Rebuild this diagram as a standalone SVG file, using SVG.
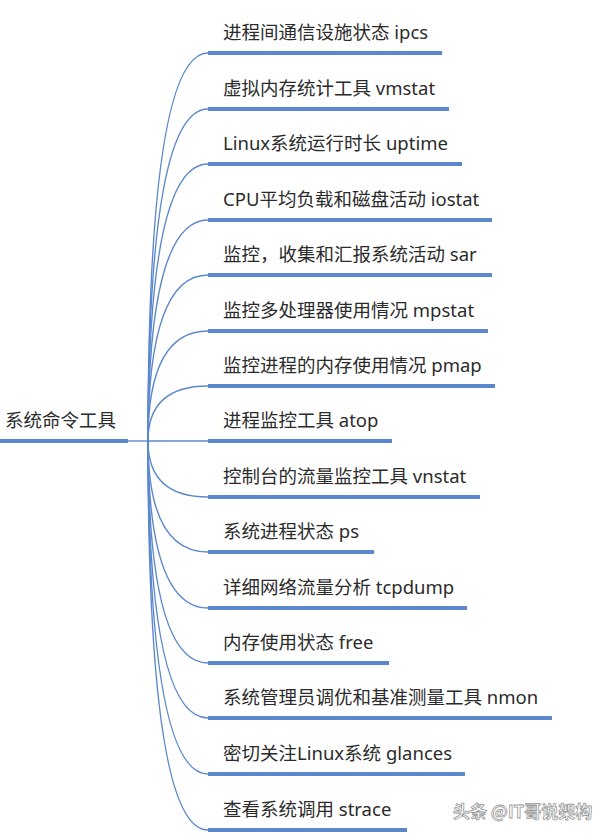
<svg xmlns="http://www.w3.org/2000/svg" width="600" height="837" viewBox="0 0 600 837">
<style>
.t{font-family:"Noto Sans","Noto Sans CJK SC",sans-serif;font-size:18.5px;fill:#2b2b2b}
.u{stroke:#5b88cc;stroke-width:4;fill:none}
.c{stroke:#5b88cc;stroke-width:1.4;fill:none}
.wm{font-family:"Noto Sans CJK SC",sans-serif;font-size:17px;font-weight:bold;fill:#fff;stroke:#999;stroke-width:0.8}
</style>
<rect width="600" height="837" fill="#fff"/>
<g id="connectors">
<path class="c" d="M128 441 H148"/>
<path class="c" d="M148 441 Q148 53 208 53"/>
<path class="c" d="M148 441 Q148 109 208 109"/>
<path class="c" d="M148 441 Q148 164 208 164"/>
<path class="c" d="M148 441 Q148 220 208 220"/>
<path class="c" d="M148 441 Q148 275 208 275"/>
<path class="c" d="M148 441 Q148 331 208 331"/>
<path class="c" d="M148 441 Q148 386 208 386"/>
<path class="c" d="M148 441 H208"/>
<path class="c" d="M148 441 Q148 497 208 497"/>
<path class="c" d="M148 441 Q148 552 208 552"/>
<path class="c" d="M148 441 Q148 608 208 608"/>
<path class="c" d="M148 441 Q148 663 208 663"/>
<path class="c" d="M148 441 Q148 718 208 718"/>
<path class="c" d="M148 441 Q148 774 208 774"/>
<path class="c" d="M148 441 Q148 830 208 830"/>
</g>
<g id="root"><text class="t" x="5" y="427">系统命令工具</text><path class="u" d="M0 441 H128"/></g>
<g id="n1"><text class="t" x="223" y="39">进程间通信设施状态 ipcs</text><path class="u" d="M208 53 H442"/></g>
<g id="n2"><text class="t" x="223" y="95">虚拟内存统计工具 vmstat</text><path class="u" d="M208 109 H449"/></g>
<g id="n3"><text class="t" x="223" y="150">Linux系统运行时长 uptime</text><path class="u" d="M208 164 H462"/></g>
<g id="n4"><text class="t" x="223" y="206">CPU平均负载和磁盘活动 iostat</text><path class="u" d="M208 220 H492"/></g>
<g id="n5"><text class="t" x="223" y="261">监控，收集和汇报系统活动 sar</text><path class="u" d="M208 275 H492"/></g>
<g id="n6"><text class="t" x="223" y="317">监控多处理器使用情况 mpstat</text><path class="u" d="M208 331 H488"/></g>
<g id="n7"><text class="t" x="223" y="372">监控进程的内存使用情况 pmap</text><path class="u" d="M208 386 H495"/></g>
<g id="n8"><text class="t" x="223" y="427">进程监控工具 atop</text><path class="u" d="M208 441 H392"/></g>
<g id="n9"><text class="t" x="223" y="483">控制台的流量监控工具 vnstat</text><path class="u" d="M208 497 H480"/></g>
<g id="n10"><text class="t" x="223" y="538">系统进程状态 ps</text><path class="u" d="M208 552 H374"/></g>
<g id="n11"><text class="t" x="223" y="594">详细网络流量分析 tcpdump</text><path class="u" d="M208 608 H467"/></g>
<g id="n12"><text class="t" x="223" y="649">内存使用状态 free</text><path class="u" d="M208 663 H389"/></g>
<g id="n13"><text class="t" x="223" y="704">系统管理员调优和基准测量工具 nmon</text><path class="u" d="M208 718 H552"/></g>
<g id="n14"><text class="t" x="223" y="760">密切关注Linux系统 glances</text><path class="u" d="M208 774 H465"/></g>
<g id="n15"><text class="t" x="223" y="816">查看系统调用 strace</text><path class="u" d="M208 830 H407"/></g>
<text class="wm" x="453" y="818">头条 @IT哥说架构</text>
</svg>
